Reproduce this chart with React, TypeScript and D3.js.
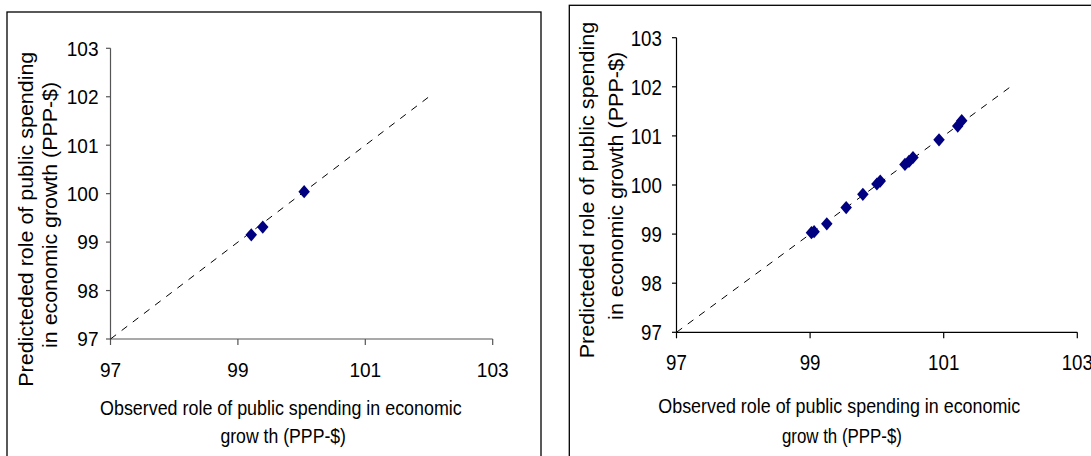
import React from "react";
import * as d3 from "d3";

// ---- Data ----
const ticks = [97, 98, 99, 100, 101, 102, 103];
const xTicks = [97, 99, 101, 103];
const refLine = [97, 102];

const leftObserved = [99.21, 99.39, 100.04];
const leftPredicted = [99.15, 99.31, 100.04];

const rightObserved = [99.02, 99.06, 99.25, 99.54, 99.79, 100.0, 100.05, 100.42, 100.48, 100.54, 100.93, 101.21, 101.27];
const rightPredicted = [99.03, 99.05, 99.21, 99.54, 99.81, 100.02, 100.08, 100.42, 100.48, 100.56, 100.92, 101.2, 101.31];

const yTitle1 = "Predicteded role of public spending";
const yTitle2 = "in economic growth (PPP-$)";
const xTitle1 = "Observed role of public spending in economic";
const xTitleLeft2 = "grow th  (PPP-$)";
const xTitleRight2 = "grow th (PPP-$)";

const FONT = "'Liberation Sans', Arial, sans-serif";

type PanelCfg = {
  box: [number, number, number, number];
  x0: number; x1: number; y0: number; y1: number;
  axisColor: string;
  tickFs: number; tickSx: number;
  yLabelGap: number; xLabelBase: number;
  obs: number[]; pred: number[];
  yT1: { x: number; c: number; len: number };
  yT2: { x: number; c: number; len: number };
  xT1: { c: number; y: number; len: number };
  xT2: { c: number; y: number; len: number; text: string };
};

const panels: PanelCfg[] = [
  {
    box: [7, 12, 541, 470],
    x0: 110.5, x1: 492.7, y0: 339, y1: 48.3,
    axisColor: "#555",
    tickFs: 20.5, tickSx: 0.93,
    yLabelGap: 12, xLabelBase: 376.7,
    obs: leftObserved, pred: leftPredicted,
    yT1: { x: 32.7, c: 219.2, len: 335 },
    yT2: { x: 56.8, c: 214.9, len: 266 },
    xT1: { c: 280.9, y: 415, len: 361.7 },
    xT2: { c: 283.2, y: 443, len: 125.6, text: xTitleLeft2 },
  },
  {
    box: [569.3, 5.3, 1100, 470],
    x0: 676.5, x1: 1077.3, y0: 332.3, y1: 37.7,
    axisColor: "#000",
    tickFs: 22, tickSx: 0.85,
    yLabelGap: 14.6, xLabelBase: 370,
    obs: rightObserved, pred: rightPredicted,
    yT1: { x: 594, c: 190, len: 336.7 },
    yT2: { x: 622.6, c: 185.9, len: 268 },
    xT1: { c: 839.3, y: 413.3, len: 362 },
    xT2: { c: 841.9, y: 443, len: 120, text: xTitleRight2 },
  },
];

function Panel({ p }: { p: PanelCfg }) {
  const x = d3.scaleLinear().domain([97, 103]).range([p.x0, p.x1]);
  const y = d3.scaleLinear().domain([97, 103]).range([p.y0, p.y1]);
  const line = d3.line<number>().x((v) => x(v)).y((v) => y(v));
  const diamond = d3.symbol().type(d3.symbolDiamond2).size(84)();
  const capH = p.tickFs * 0.716;
  return (
    <g>
      <rect
        x={p.box[0]}
        y={p.box[1]}
        width={p.box[2] - p.box[0]}
        height={p.box[3] - p.box[1]}
        fill="none"
        stroke="#000"
        strokeWidth={1.3}
      />
      {/* axes */}
      <line x1={x(97)} x2={x(97)} y1={y(97)} y2={y(103)} stroke={p.axisColor} strokeWidth={1.2} />
      <line x1={x(97)} x2={x(103)} y1={y(97)} y2={y(97)} stroke={p.axisColor} strokeWidth={1.2} />
      {ticks.map((t) => (
        <g key={"y" + t}>
          <line x1={x(97) - 4.5} x2={x(97)} y1={y(t)} y2={y(t)} stroke={p.axisColor} strokeWidth={1.2} />
          <text
            transform={`translate(${x(97) - p.yLabelGap},${y(t) + capH / 2}) scale(${p.tickSx},1)`}
            textAnchor="end"
            fontFamily={FONT}
            fontSize={p.tickFs}
            fill="#000"
          >
            {t}
          </text>
        </g>
      ))}
      {xTicks.map((t) => (
        <g key={"x" + t}>
          <line x1={x(t)} x2={x(t)} y1={y(97)} y2={y(97) + 6} stroke={p.axisColor} strokeWidth={1.2} />
          <text
            transform={`translate(${x(t)},${p.xLabelBase}) scale(${p.tickSx},1)`}
            textAnchor="middle"
            fontFamily={FONT}
            fontSize={p.tickFs}
            fill="#000"
          >
            {t}
          </text>
        </g>
      ))}
      {/* reference line */}
      <path d={line(refLine) || ""} fill="none" stroke="#000" strokeWidth={1} strokeDasharray="7,7" />
      {/* points */}
      {p.obs.map((o, i) => (
        <path
          key={i}
          d={diamond || ""}
          transform={`translate(${x(o)},${y(p.pred[i])}) scale(1,1.15)`}
          fill="#000080"
        />
      ))}
      {/* y title */}
      <text
        transform={`translate(${p.yT1.x},${p.yT1.c}) rotate(-90)`}
        textAnchor="middle"
        fontFamily={FONT}
        fontSize={21}
        textLength={p.yT1.len}
        lengthAdjust="spacingAndGlyphs"
      >
        {yTitle1}
      </text>
      <text
        transform={`translate(${p.yT2.x},${p.yT2.c}) rotate(-90)`}
        textAnchor="middle"
        fontFamily={FONT}
        fontSize={21}
        textLength={p.yT2.len}
        lengthAdjust="spacingAndGlyphs"
      >
        {yTitle2}
      </text>
      {/* x title */}
      <text
        x={p.xT1.c}
        y={p.xT1.y}
        textAnchor="middle"
        fontFamily={FONT}
        fontSize={21}
        textLength={p.xT1.len}
        lengthAdjust="spacingAndGlyphs"
      >
        {xTitle1}
      </text>
      <text
        x={p.xT2.c}
        y={p.xT2.y}
        textAnchor="middle"
        fontFamily={FONT}
        fontSize={21}
        textLength={p.xT2.len}
        lengthAdjust="spacingAndGlyphs"
      >
        {p.xT2.text}
      </text>
    </g>
  );
}

export default function App() {
  return (
    <svg
      width={1091}
      height={456}
      style={{ position: "absolute", left: 0, top: 0, background: "#fff" }}
    >
      <rect x={0} y={0} width={1091} height={456} fill="#fff" />
      {panels.map((p, i) => (
        <Panel key={i} p={p} />
      ))}
    </svg>
  );
}
